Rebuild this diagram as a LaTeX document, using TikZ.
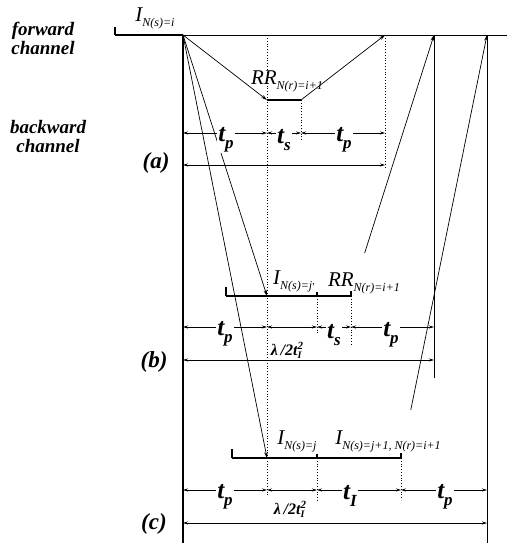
\documentclass[tikz,border=0pt]{standalone}
\usepackage{fontspec}
\setmainfont{Liberation Serif}
\usetikzlibrary{arrows.meta}
\newcommand{\tlab}[2]{{\fontsize{25}{25}\selectfont\bfseries\itshape #1\raisebox{-7pt}{\fontsize{17}{17}\selectfont #2}}}
\newcommand{\flab}[2]{{\fontsize{21}{21}\selectfont\itshape #1\raisebox{-5pt}{\fontsize{12}{12}\selectfont #2}}}
\newcommand{\lam}{{\fontsize{16}{16}\selectfont\bfseries\itshape \char"03BB\,/2t\rlap{\raisebox{-3pt}{\fontsize{10}{10}\selectfont I}}\raisebox{6pt}{\fontsize{11}{11}\selectfont 2}}}

\begin{document}
\begin{tikzpicture}[x=1pt, y=-1pt,
  frame/.style={line width=2.4pt},
  tick/.style={line width=1.4pt},
  msg/.style={-{Stealth[length=6pt,width=3.5pt]}, line width=0.7pt},
  dim/.style={{Stealth[length=5pt,width=3pt]}-{Stealth[length=5pt,width=3pt]}, line width=0.7pt},
  guide/.style={dotted, line width=0.8pt},
  lbl/.style={fill=white, inner sep=1pt},
  side/.style={align=center, font=\fontsize{19}{19}\selectfont\bfseries\itshape},
  case/.style={font=\fontsize{23}{23}\selectfont\bfseries\itshape}
]
\useasboundingbox (0,0) rectangle (507,543);
% time axis and frames
\coordinate (fs) at (115,35);
\coordinate (src) at (183,35);
\coordinate (fend) at (507,35);
\coordinate (bot) at (183,543);
\coordinate (ra) at (267,100);
\coordinate (rae) at (301,100);
\coordinate (fa) at (385,35);
\coordinate (b1) at (226,296);
\coordinate (bj) at (267,296);
\coordinate (bm) at (317,296);
\coordinate (be) at (351,296);
\coordinate (fb) at (434,35);
\coordinate (fbb) at (434,378);
\coordinate (c1) at (232,458);
\coordinate (cj) at (267,458);
\coordinate (cm) at (317,458);
\coordinate (ce) at (401,458);
\coordinate (fc) at (487,35);
\coordinate (fcb) at (487,543);

\node[side] (fwd) at (43,38) {forward\\channel};
\node[side] (bwd) at (48,137) {backward\\channel};
\node[case] (ca) at (156,163) {(a)};
\node[case] (cb) at (154,362) {(b)};
\node[case] (cc) at (154,524) {(c)};

\draw[line width=0.8pt] (fs) -- (fend);
\draw[frame] (fs) -- (src);
\draw[tick] (fs) -- ++(0,-8);
\draw[line width=1.2pt] (src) -- (bot);
\draw[line width=1pt] (fb) -- (fbb);
\draw[line width=0.8pt] (fc) -- (fcb);

\draw[frame] (ra) -- (rae);
\draw[frame] (b1) -- (be);
\draw[tick] (b1) -- ++(0,-9);
\draw[tick] (bm) -- ++(0,-4);
\draw[tick] (be) -- ++(0,-5);
\draw[frame] (c1) -- (ce);
\draw[tick] (c1) -- ++(0,-9);
\draw[tick] (cm) -- ++(0,-4);
\draw[tick] (ce) -- ++(0,-5);

\draw[msg] (src) -- (ra);
\draw[msg] (rae) -- (fa);
\draw[msg] (src) -- (bj);
\draw[msg, shorten <=45pt] (be) -- (fb);
\draw[msg] (src) -- (cj);
\draw[msg, shorten <=49pt] (ce) -- (fc);

\draw[guide] (267,38) -- (267,495);
\draw[guide] (rae) -- (301,140);
\draw[guide] (385,38) -- (385,168);
\draw[guide] (bm) -- (317,333);
\draw[guide] (be) -- (351,345);
\draw[guide] (cm) -- (317,502);
\draw[guide] (ce) -- (401,500);

\node (li) at (155,18) {\flab{I}{N(s)=i}};
\node (lra) at (287,81) {\flab{RR}{N(r)=i+1}};
\node (lbj) at (294,281) {\flab{I}{N(s)=j},};
\node (lbr) at (364,283) {\flab{RR}{N(r)=i+1}};
\node (lcj) at (297,441) {\flab{I}{N(s)=j}};
\node (lcr) at (388,441) {\flab{I}{N(s)=j+1, N(r)=i+1}};

% (a)
\draw[dim] (183,133) -- (267,133);
\draw[dim] (267,133) -- (301,133);
\draw[dim] (301,133) -- (385,133);
\draw[dim] (183,165) -- (385,165);
\node[lbl] (atp) at (226,140) {\tlab{t}{p}};
\node[lbl] (ats) at (284,140) {\tlab{t}{s}};
\node[lbl] (atq) at (344,140) {\tlab{t}{p}};
% (b)
\draw[dim] (183,327) -- (267,327);
\draw[dim] (267,327) -- (317,327);
\draw[dim] (317,327) -- (351,327);
\draw[dim] (351,327) -- (434,327);
\draw[dim] (183,360) -- (434,360);
\node[lbl] (btp) at (225,334) {\tlab{t}{p}};
\node[lbl] (bts) at (334,335) {\tlab{t}{s}};
\node[lbl] (btq) at (391,335) {\tlab{t}{p}};
\node (blam) at (287,350) {\lam};
% (c)
\draw[dim] (183,490) -- (267,490);
\draw[dim] (267,490) -- (317,490);
\draw[dim] (317,490) -- (401,490);
\draw[dim] (401,490) -- (487,490);
\draw[dim] (183,523) -- (487,523);
\node[lbl] (ctp) at (225,497) {\tlab{t}{p}};
\node[lbl] (cti) at (350,496) {\tlab{t}{I}};
\node[lbl] (ctq) at (445,497) {\tlab{t}{p}};
\node (clam) at (290,509) {\lam};
\end{tikzpicture}
\end{document}
